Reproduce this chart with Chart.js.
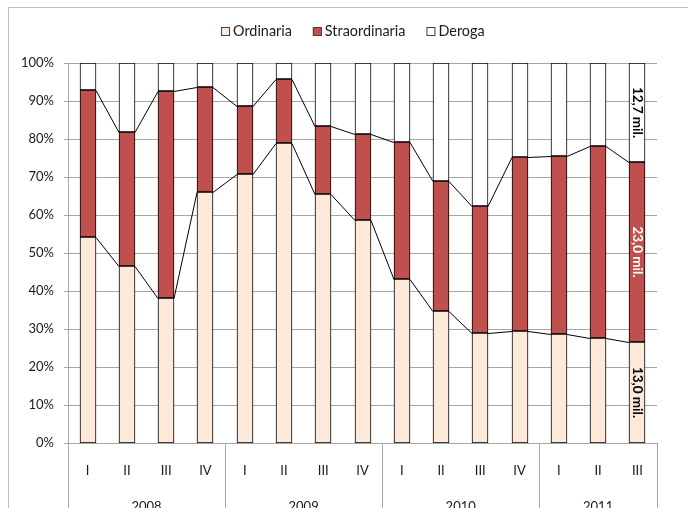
<!DOCTYPE html>
<html>
<head>
<meta charset="utf-8">
<script src="https://cdn.jsdelivr.net/npm/chart.js@4.4.1/dist/chart.umd.min.js"></script>
<style>
  html, body { margin: 0; padding: 0; background: #fff; }
  canvas { display: block; }
</style>
</head>
<body>
<canvas id="grafico" width="688" height="508"></canvas>
<script>
// dati (quote % per trimestre)
const trimestri = ["I", "II", "III", "IV", "I", "II", "III", "IV", "I", "II", "III", "IV", "I", "II", "III"];
const anni = ["2008", "2009", "2010", "2011"];
const trimestriPerAnno = [4, 4, 4, 3];
const serie = ["Ordinaria", "Straordinaria", "Deroga"];
const ordinaria = [54.1, 46.7, 38.1, 66.1, 70.9, 78.9, 65.6, 58.8, 43.1, 34.7, 29.0, 29.4, 28.8, 27.6, 26.7];
const straordinaria = [38.7, 35.2, 54.4, 27.6, 17.9, 17.0, 17.9, 22.5, 36.0, 34.2, 33.5, 45.8, 46.6, 50.6, 47.2];
const deroga = [7.2, 18.1, 7.5, 6.3, 11.2, 4.1, 16.5, 18.7, 20.9, 31.1, 37.5, 24.8, 24.6, 21.8, 26.1];
const etichetteUltimo = ["13,0 mil.", "23,0 mil.", "12,7 mil."];

const colori = ["#fde9d9", "#c0504d", "#ffffff"];
const coloriEtichette = ["#000", "#fff", "#000"];
const font = "Lato";
const testo = "#1a1a1a";
const grigio = "#a6a6a6";

const extra = {
  id: "extra",
  beforeDraw(chart) {
    const c = chart.ctx;
    c.save();
    c.strokeStyle = "#bfbfbf";
    c.lineWidth = 1;
    c.strokeRect(8.5, 7.5, 720, 540);
    c.restore();
  },
  beforeDatasetsDraw(chart) {
    // allinea le barre ai pixel interi per bordi netti
    chart.data.datasets.forEach(function (ds, d) {
      chart.getDatasetMeta(d).data.forEach(function (el) {
        const w = Math.round(el.width);
        const left = Math.round(el.x - el.width / 2);
        el.width = w;
        el.x = left + w / 2;
        el.y = Math.round(el.y);
        el.base = Math.round(el.base);
      });
    });
  },
  afterDatasetsDraw(chart) {
    const c = chart.ctx;
    c.save();
    // linee di serie tra le barre
    c.strokeStyle = "#000";
    c.lineWidth = 1;
    [0, 1].forEach(function (d) {
      const bars = chart.getDatasetMeta(d).data;
      for (let i = 0; i < bars.length - 1; i++) {
        const a = bars[i], b = bars[i + 1];
        c.beginPath();
        c.moveTo(a.x + a.width / 2, a.y + 0.5);
        c.lineTo(b.x - b.width / 2, b.y + 0.5);
        c.stroke();
      }
    });
    // etichette ruotate sull'ultima barra
    c.font = "bold 13.5px " + font;
    c.textAlign = "center";
    c.textBaseline = "middle";
    etichetteUltimo.forEach(function (t, d) {
      const bars = chart.getDatasetMeta(d).data;
      const el = bars[bars.length - 1];
      c.save();
      c.translate(el.x, (el.y + el.base) / 2);
      c.rotate(Math.PI / 2);
      c.fillStyle = coloriEtichette[d];
      c.fillText(t, 0, 0);
      c.restore();
    });
    c.restore();
  },
  afterDraw(chart) {
    const c = chart.ctx;
    const xs = chart.scales.x;
    const area = chart.chartArea;
    const mezzo = (xs.getPixelForValue(1) - xs.getPixelForValue(0)) / 2;
    c.save();
    // asse x a due livelli
    c.strokeStyle = grigio;
    c.lineWidth = 1;
    let idx = 0;
    const bordi = [0];
    trimestriPerAnno.forEach(function (n) { idx += n; bordi.push(idx); });
    bordi.forEach(function (b) {
      const x = Math.round(xs.getPixelForValue(b) - mezzo) + 0.5;
      c.beginPath();
      c.moveTo(x, area.bottom);
      c.lineTo(x, chart.height + 5);
      c.stroke();
    });
    c.fillStyle = testo;
    c.font = "13px " + font;
    c.textAlign = "center";
    c.textBaseline = "alphabetic";
    trimestri.forEach(function (t, i) {
      c.fillText(t, xs.getPixelForValue(i), 474.5);
    });
    anni.forEach(function (a, k) {
      const x0 = xs.getPixelForValue(bordi[k]) - mezzo;
      const x1 = xs.getPixelForValue(bordi[k + 1]) - mezzo;
      c.fillText(a, (x0 + x1) / 2, 511);
    });
    // legenda
    c.font = "14.4px " + font;
    c.textAlign = "left";
    const box = 9, gap = 3, spazio = 21;
    let larghezza = 0;
    serie.forEach(function (s, i) {
      larghezza += box + gap + c.measureText(s).width + (i < serie.length - 1 ? spazio : 0);
    });
    let x = Math.round(353 - larghezza / 2);
    serie.forEach(function (s, i) {
      c.fillStyle = colori[i];
      c.fillRect(x, 27, box, box);
      c.strokeStyle = "#404040";
      c.strokeRect(x + 0.5, 27.5, box - 1, box - 1);
      c.fillStyle = testo;
      c.textBaseline = "middle";
      c.fillText(s, x + box + gap, 31.5);
      x += box + gap + c.measureText(s).width + spazio;
    });
    c.restore();
  }
};

const dataset = function (label, valori, i) {
  return {
    label: label,
    data: valori,
    backgroundColor: colori[i],
    borderColor: "#000",
    borderWidth: 1,
    borderSkipped: false,
    barThickness: 16
  };
};

const chart = new Chart(document.getElementById("grafico"), {
  type: "bar",
  data: {
    labels: trimestri,
    datasets: [
      dataset(serie[0], ordinaria, 0),
      dataset(serie[1], straordinaria, 1),
      dataset(serie[2], deroga, 2)
    ]
  },
  options: {
    responsive: false,
    animation: false,
    devicePixelRatio: 1,
    layout: { padding: { top: 63, right: 31, left: 0, bottom: 0 } },
    plugins: {
      legend: { display: false },
      tooltip: { enabled: false }
    },
    scales: {
      x: {
        stacked: true,
        grid: { display: false },
        border: { display: false },
        ticks: { display: false },
        afterFit: function (a) { a.height = 65; }
      },
      y: {
        stacked: true,
        min: 0,
        max: 100,
        ticks: {
          stepSize: 10,
          callback: function (v) { return v + "%"; },
          padding: 10,
          color: testo,
          font: { family: font, size: 13 }
        },
        grid: { color: grigio, tickLength: 4 },
        border: { color: grigio },
        afterFit: function (a) { a.width = 68; }
      }
    }
  },
  plugins: [extra]
});
</script>
</body>
</html>
